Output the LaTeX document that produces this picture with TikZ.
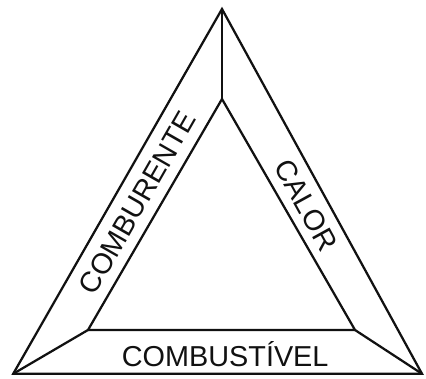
\documentclass[tikz,border=0pt]{standalone}
\usepackage{fontspec}
\setmainfont{Liberation Sans}
\usepackage{xcolor}
\usepackage{tikz}
\usetikzlibrary{calc}
\definecolor{LineDark}{HTML}{111111}

\begin{document}
\begin{tikzpicture}[
      edge/.style={draw=LineDark, line width=1.6pt, line join=miter},
      lbl/.style={text=LineDark, font=\fontsize{20.5}{23}\selectfont,
                  inner sep=0pt},
    ]
      \useasboundingbox (0,0) rectangle (10.65,9.475);
      % outer and inner corners
      \coordinate (ot) at (5.55, 9.25);
      \coordinate (ol) at (0.33, 0.13);
      \coordinate (or) at (10.55, 0.13);
      \coordinate (it) at (5.55, 7.0);
      \coordinate (il) at (2.2, 1.225);
      \coordinate (ir) at (8.875, 1.225);
      \draw[edge] (ot) -- (or) -- (ol) -- cycle;
      \draw[edge] (it) -- (ir) -- (il) -- cycle;
      \draw[edge] (ot) -- (it); \draw[edge] (ol) -- (il); \draw[edge] (or) -- (ir);
      % labels
      \node[lbl, rotate=60.2]  (comb) at (3.43, 4.4)  {COMBURENTE};
      \node[lbl, rotate=-61.2] (cal)  at (7.65, 4.35) {CALOR};
      \node[lbl]               (cst)  at (5.63, 0.62) {COMBUSTÍVEL};
    \end{tikzpicture}
\end{document}
